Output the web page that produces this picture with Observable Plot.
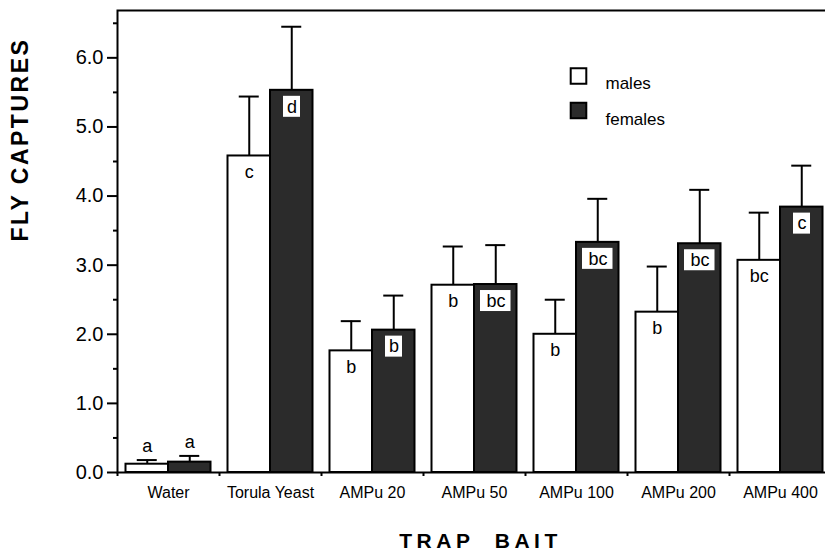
<!DOCTYPE html>
<html><head><meta charset="utf-8">
<script src="https://cdn.jsdelivr.net/npm/d3@7"></script>
<script src="https://cdn.jsdelivr.net/npm/@observablehq/plot@0.6"></script>
<style>
html,body{margin:0;padding:0;overflow:hidden;background:#fff;}
#chart{position:relative;width:825px;height:560px;overflow:hidden;}
</style></head><body><div id="chart"></div>
<script>
const categories = ["Water", "Torula Yeast", "AMPu 20", "AMPu 50", "AMPu 100", "AMPu 200", "AMPu 400"];
const sexes = ["males", "females"];
const maleMeans = [0.12, 4.58, 1.76, 2.71, 2.00, 2.32, 3.07];
const maleSE = [0.06, 0.86, 0.43, 0.56, 0.50, 0.66, 0.69];
const femaleMeans = [0.15, 5.53, 2.06, 2.72, 3.33, 3.31, 3.84];
const femaleSE = [0.09, 0.92, 0.50, 0.57, 0.63, 0.78, 0.60];
const maleLetters = ["a", "c", "b", "b", "b", "b", "bc"];
const femaleLetters = ["a", "d", "b", "bc", "bc", "bc", "c"];
const yTicks = [0, 1, 2, 3, 4, 5, 6];
const yMinorTicks = [0.5, 1.5, 2.5, 3.5, 4.5, 5.5, 6.5];
const yTitle = "FLY CAPTURES";
const xTitle = "TRAP  BAIT";

const males = categories.map((c, i) => ({bait: c, sex: sexes[0], mean: maleMeans[i], se: maleSE[i], letter: maleLetters[i]}));
const females = categories.map((c, i) => ({bait: c, sex: sexes[1], mean: femaleMeans[i], se: femaleSE[i], letter: femaleLetters[i]}));
const isWater = d => d.bait === categories[0];

const darkFill = "#2b2b2b";
const sw = 2;

const plot = Plot.plot({
  width: 840, height: 560,
  marginLeft: 117, marginRight: 9, marginTop: 10, marginBottom: 88,
  style: {fontFamily: "'Liberation Sans', Arial, Helvetica, sans-serif", maxWidth: "none", background: "white", color: "black"},
  x: {domain: categories, padding: 0, axis: null},
  y: {domain: [0, 6.685], axis: null},
  marks: [
    Plot.barY(males, {x: "bait", y: "mean", fill: "white", stroke: "black", strokeWidth: sw, insetLeft: 8.5, insetRight: 51}),
    Plot.barY(females, {x: "bait", y: "mean", fill: darkFill, stroke: "black", strokeWidth: sw, insetLeft: 51, insetRight: 8.5}),
    // error bars
    Plot.ruleX(males, {x: "bait", y1: "mean", y2: d => d.mean + d.se, dx: -21.25, stroke: "black", strokeWidth: sw}),
    Plot.ruleX(females, {x: "bait", y1: "mean", y2: d => d.mean + d.se, dx: 21.25, stroke: "black", strokeWidth: sw}),
    Plot.tickY(males, {x: "bait", y: d => d.mean + d.se, insetLeft: 19.75, insetRight: 62.25, stroke: "black", strokeWidth: sw}),
    Plot.tickY(females, {x: "bait", y: d => d.mean + d.se, insetLeft: 62.25, insetRight: 19.75, stroke: "black", strokeWidth: sw}),
    // white boxes for female letters
    Plot.barY(females.filter(d => !isWater(d) && d.letter.length === 1), {x: "bait", y1: "mean", y2: "mean", insetTop: 6, insetBottom: -27, insetLeft: 64, insetRight: 21, fill: "white"}),
    Plot.barY(females.filter(d => !isWater(d) && d.letter.length > 1), {x: "bait", y1: "mean", y2: "mean", insetTop: 6, insetBottom: -27, insetLeft: 57, insetRight: 14.5, fill: "white"}),
    // letters
    Plot.text(males.filter(d => !isWater(d)), {x: "bait", y: "mean", text: "letter", dx: -21.25, dy: 16, fontSize: 18, fill: "black"}),
    Plot.text(females.filter(d => !isWater(d)), {x: "bait", y: "mean", text: "letter", dx: 21.5, dy: 16.5, fontSize: 18, fill: "black"}),
    Plot.text(males.filter(isWater), {x: "bait", y: d => d.mean + d.se, text: "letter", dx: -21.25, dy: -14, fontSize: 18, fill: "black"}),
    Plot.text(females.filter(isWater), {x: "bait", y: d => d.mean + d.se, text: "letter", dx: 21.25, dy: -14, fontSize: 18, fill: "black"}),
    // frame
    Plot.frame({stroke: "black", strokeWidth: sw}),
    // y axis
    Plot.axisY({ticks: yTicks, tickSize: 10, tickPadding: 4, tickFormat: d3.format(".1f"), fontSize: 20, strokeWidth: sw, label: null}),
    Plot.axisY({ticks: yMinorTicks, tickSize: 4, text: null, strokeWidth: sw, label: null}),
    // x axis: boundary ticks + labels
    Plot.axisX({tickSize: 4, text: null, dx: -51, strokeWidth: sw, label: null}),
    Plot.text(categories, {x: d => d, frameAnchor: "bottom", dy: 25, fontSize: 16, fill: "black"}),
    // titles
    Plot.text([yTitle], {frameAnchor: "left", dx: -96.5, rotate: -90, text: d => d, fontSize: 23, fontWeight: "bold", fill: "black"}),
    Plot.text([xTitle], {frameAnchor: "bottom", dx: 6, dy: 75, text: d => d, fontSize: 21, fontWeight: "bold", fill: "black"}),
    // legend
    Plot.dot([sexes[0]], {frameAnchor: "top-left", dx: 461, dy: 65.5, symbol: "square", r: 8.8, fill: "white", stroke: "black", strokeWidth: sw}),
    Plot.dot([sexes[1]], {frameAnchor: "top-left", dx: 461, dy: 100, symbol: "square", r: 8.8, fill: darkFill, stroke: "black", strokeWidth: sw}),
    Plot.text([sexes[0]], {frameAnchor: "top-left", dx: 488, dy: 66, text: d => d, textAnchor: "start", fontSize: 17, fill: "black"}),
    Plot.text([sexes[1]], {frameAnchor: "top-left", dx: 488, dy: 102, text: d => d, textAnchor: "start", fontSize: 17, fill: "black"})
  ]
});
document.getElementById("chart").appendChild(plot);
d3.select(plot).selectAll("text").each(function() {
  const t = this.textContent;
  if (t === yTitle) d3.select(this).style("letter-spacing", "2.5px");
  if (t === xTitle) d3.select(this).style("letter-spacing", "4.5px").style("white-space", "pre");
});
</script></body></html>
